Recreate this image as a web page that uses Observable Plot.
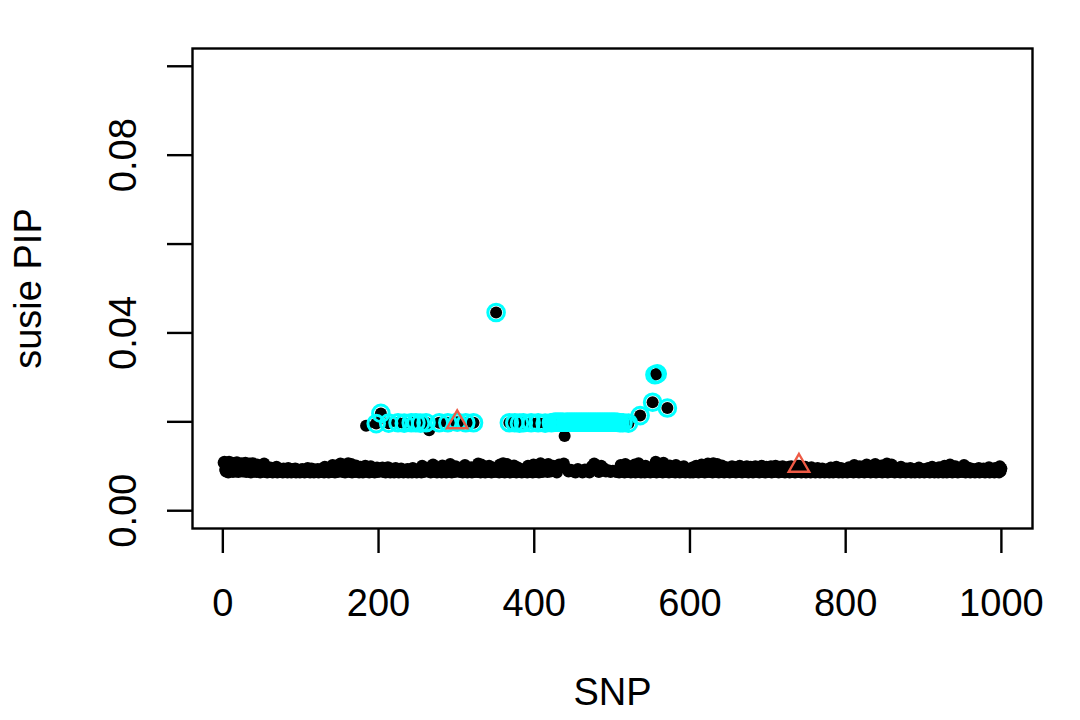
<!DOCTYPE html>
<html>
<head>
<meta charset="utf-8">
<script src="https://cdn.jsdelivr.net/npm/d3@7"></script>
<script src="https://cdn.jsdelivr.net/npm/@observablehq/plot@0.6"></script>
<style>
  html, body { margin: 0; padding: 0; background: white; }
</style>
</head>
<body>
<div id="chart"></div>
<script>
// Baseline PIP for SNP 1..1000, in units of 1e-4
const baseRaw = [
108,110,92,88,105,97,86,110,94,89,103,108,87,95,106,91,88,109,96,87,104,93,90,107,88,
105,89,96,108,87,93,101,88,106,94,86,99,107,90,88,102,95,87,104,91,89,97,86,93,100,
88,95,106,87,92,99,86,94,90,87,97,88,93,86,91,95,87,90,99,86,92,88,94,87,90,
91,86,95,88,93,87,90,86,96,89,87,92,86,94,88,91,87,95,86,89,93,87,90,86,92,
88,94,87,91,86,93,89,87,96,88,92,86,90,95,87,89,86,93,88,91,87,94,86,90,88,
92,87,95,89,86,99,88,93,87,90,86,97,89,92,87,103,88,94,86,91,101,87,95,88,90,
106,89,93,87,104,90,86,98,92,88,107,94,87,91,105,86,96,89,93,87,102,90,88,95,86,
92,99,87,90,86,94,88,101,89,93,87,96,86,91,100,88,94,87,90,86,95,89,97,87,92,
88,93,86,90,97,87,94,89,86,92,88,98,87,91,86,95,89,87,93,86,90,96,88,87,94,
86,91,89,95,87,92,86,99,88,90,87,94,86,93,89,87,91,86,96,88,90,87,93,86,89,
92,87,95,88,86,101,90,87,94,89,86,92,88,97,87,91,86,93,89,104,88,95,87,90,86,
93,88,99,87,91,86,102,89,94,87,90,86,96,88,92,87,105,89,86,93,88,91,87,100,89,
86,94,88,90,87,97,89,86,93,88,103,87,91,86,95,88,90,87,98,86,92,89,87,94,88,
91,87,106,89,93,86,104,88,95,87,90,86,99,89,92,87,101,88,94,86,90,97,87,92,88,
89,96,87,93,86,104,88,91,87,107,89,86,94,88,105,90,87,93,86,98,89,92,87,102,88,
94,86,90,97,87,103,89,93,86,91,106,88,87,95,89,86,101,92,87,98,88,90,86,104,89,
93,87,100,88,95,86,91,107,89,87,94,88,102,86,92,90,87,105,89,96,88,86,93,101,87,
90,88,108,86,94,89,104,87,92,98,88,86,106,90,87,95,89,103,88,86,109,92,87,97,88,
91,105,86,89,110,94,87,108,90,88,96,86,107,89,93,87,109,88,91,104,86,95,89,100,87,
88,106,92,86,98,89,104,87,93,88,101,86,90,96,87,94,88,102,86,91,89,97,87,93,88,
90,86,95,88,99,87,92,89,86,94,103,88,90,87,96,86,105,89,92,87,98,88,91,86,100,
87,93,89,104,86,95,88,90,107,87,92,86,97,89,88,94,86,101,90,87,93,88,96,86,91,
89,106,87,94,88,110,86,92,97,88,104,87,90,95,86,108,89,93,87,99,88,91,86,102,89,
92,87,96,88,90,86,103,89,94,87,91,86,98,88,93,87,100,89,86,95,88,91,87,94,86,
90,88,97,86,93,89,87,101,88,92,86,95,89,87,104,90,88,94,86,96,89,87,106,88,92,
87,95,89,86,107,91,88,94,87,105,89,86,93,90,87,102,88,96,86,91,89,98,87,93,88,
86,94,89,100,87,92,88,97,86,90,99,89,87,101,88,93,86,95,89,98,87,91,100,88,86,
94,88,99,87,92,86,97,89,100,88,91,87,98,86,93,89,101,87,90,96,88,86,99,89,92,
87,95,88,100,86,91,98,89,87,101,92,88,96,86,99,89,93,87,100,88,94,86,97,89,91,
88,99,86,93,100,87,95,89,98,86,92,88,101,87,101,94,89,86,96,88,92,87,99,86,90,
89,95,87,92,86,98,88,90,87,94,86,91,89,96,87,93,86,90,88,95,87,89,86,92,88,
91,87,94,86,89,97,88,92,86,95,87,90,99,88,93,86,91,87,96,89,86,94,88,90,87,
93,86,90,98,88,92,87,95,89,86,103,90,88,94,87,91,86,100,89,93,87,96,88,86,92,
89,104,87,93,88,95,86,101,90,87,94,88,105,86,92,89,97,87,91,88,102,86,95,89,87,
93,88,106,86,91,89,98,87,104,90,88,94,86,97,89,92,87,95,88,86,99,90,87,93,88,
91,86,95,89,87,92,88,96,86,90,93,87,89,86,94,88,91,87,97,86,90,88,93,87,89,
86,94,88,91,87,96,89,86,93,88,99,87,91,86,95,89,87,92,86,98,88,90,87,94,86,
89,101,88,93,86,97,90,87,104,88,92,86,95,89,87,100,88,93,86,96,89,87,91,88,94,
87,103,89,86,92,88,97,87,90,86,95,88,93,87,89,86,94,88,91,87,96,86,90,88,92,
87,95,89,86,93,88,91,87,98,86,90,88,94,87,89,86,96,88,91,87,93,86,100,89,95
];

// Elevated SNPs outside the credible set
const highSnp = [184, 265, 439];
const highPip = [0.0191, 0.0181, 0.0168];

// Credible-set SNPs (cyan circles) and their PIPs
const csSnp = [197,203,213,225,233,242,248,254,261,278,289,301,312,322,351,
  368,375,381,386,396,405,414,422,
  425,427,428,430,431,433,434,436,437,440,442,443,445,446,448,449,451,452,454,455,457,458,
  460,461,463,464,466,467,469,470,472,473,475,476,478,479,481,482,484,485,487,488,490,491,
  493,494,496,497,499,500,502,503,505,507,
  510,514,521,536,552,555,558,571];
const csPip = [0.0196,0.0219,0.0197,0.0198,0.0197,0.0198,0.0198,0.0197,0.0198,0.0198,0.0198,0.0199,0.0198,0.0198,0.0446,
  0.0198,0.0198,0.0197,0.0198,0.0198,0.0198,0.0197,0.0198,
  0.0199,0.0199,0.0199,0.0199,0.0199,0.0199,0.0199,0.0199,0.0199,0.0199,0.0199,0.0199,0.0199,0.0199,0.0199,0.0199,0.0199,0.0199,0.0199,0.0199,0.0199,0.0199,
  0.0199,0.0199,0.0199,0.0199,0.0199,0.0199,0.0199,0.0199,0.0199,0.0199,0.0199,0.0199,0.0199,0.0199,0.0199,0.0199,0.0199,0.0199,0.0199,0.0199,0.0199,0.0199,
  0.0199,0.0199,0.0199,0.0199,0.0199,0.0199,0.0199,0.0199,0.0199,0.0199,
  0.0198,0.0198,0.0197,0.0214,0.0244,0.0306,0.0308,0.0231];

// True causal SNPs (red triangles)
const truthSnp = [301, 740];

const xTicks = [0, 200, 400, 600, 800, 1000];
const yTicks = [0, 0.02, 0.04, 0.06, 0.08, 0.10];
const yLabels = [0, 0.04, 0.08];

const pip = baseRaw.map(v => v / 10000);
highSnp.forEach((s, i) => { pip[s - 1] = highPip[i]; });
csSnp.forEach((s, i) => { pip[s - 1] = csPip[i]; });

const all = pip.map((p, i) => ({snp: i + 1, pip: p}));
const cs = csSnp.map(s => ({snp: s, pip: pip[s - 1]}));
const truth = truthSnp.map(s => ({snp: s, pip: pip[s - 1]}));

const font = "'Liberation Sans', Arial, Helvetica, sans-serif";
const fs = 38;

const chart = Plot.plot({
  width: 1080,
  height: 720,
  marginLeft: 192,
  marginRight: 48,
  marginTop: 48,
  marginBottom: 192,
  style: {fontFamily: font, fontSize: fs + "px", background: "white", color: "black", overflow: "visible"},
  x: {domain: [-38.96, 1039.96]},
  y: {domain: [-0.004, 0.104]},
  marks: [
    Plot.axisX({ticks: xTicks, tickSize: 25, tickPadding: 36, tickFormat: d => String(d), label: null, fontSize: fs, strokeWidth: 2.4}),
    Plot.axisY({ticks: yTicks, tickSize: 25, tickFormat: () => "", label: null, strokeWidth: 2.4}),
    Plot.text(yLabels, {y: d => d, text: d => d.toFixed(2), frameAnchor: "left", dx: -69, rotate: -90, textAnchor: "middle", lineAnchor: "middle", fontSize: fs, fill: "black"}),
    Plot.text(["SNP"], {text: d => d, frameAnchor: "bottom", dy: 164, textAnchor: "middle", lineAnchor: "middle", fontSize: fs, fill: "black"}),
    Plot.text(["susie PIP"], {text: d => d, frameAnchor: "left", dx: -164, rotate: -90, textAnchor: "middle", lineAnchor: "middle", fontSize: fs, fill: "black"}),
    Plot.frame({stroke: "black", strokeWidth: 2.4}),
    Plot.dot(all, {x: "snp", y: "pip", fill: "black", r: 6}),
    Plot.dot(cs, {x: "snp", y: "pip", stroke: "cyan", strokeWidth: 3, r: 8.3}),
    Plot.dot(truth, {x: "snp", y: "pip", symbol: "triangle", stroke: "#EE5A45", fill: "none", strokeWidth: 2.4, r: 7.6})
  ]
});
document.getElementById("chart").appendChild(chart);
</script>
</body>
</html>
